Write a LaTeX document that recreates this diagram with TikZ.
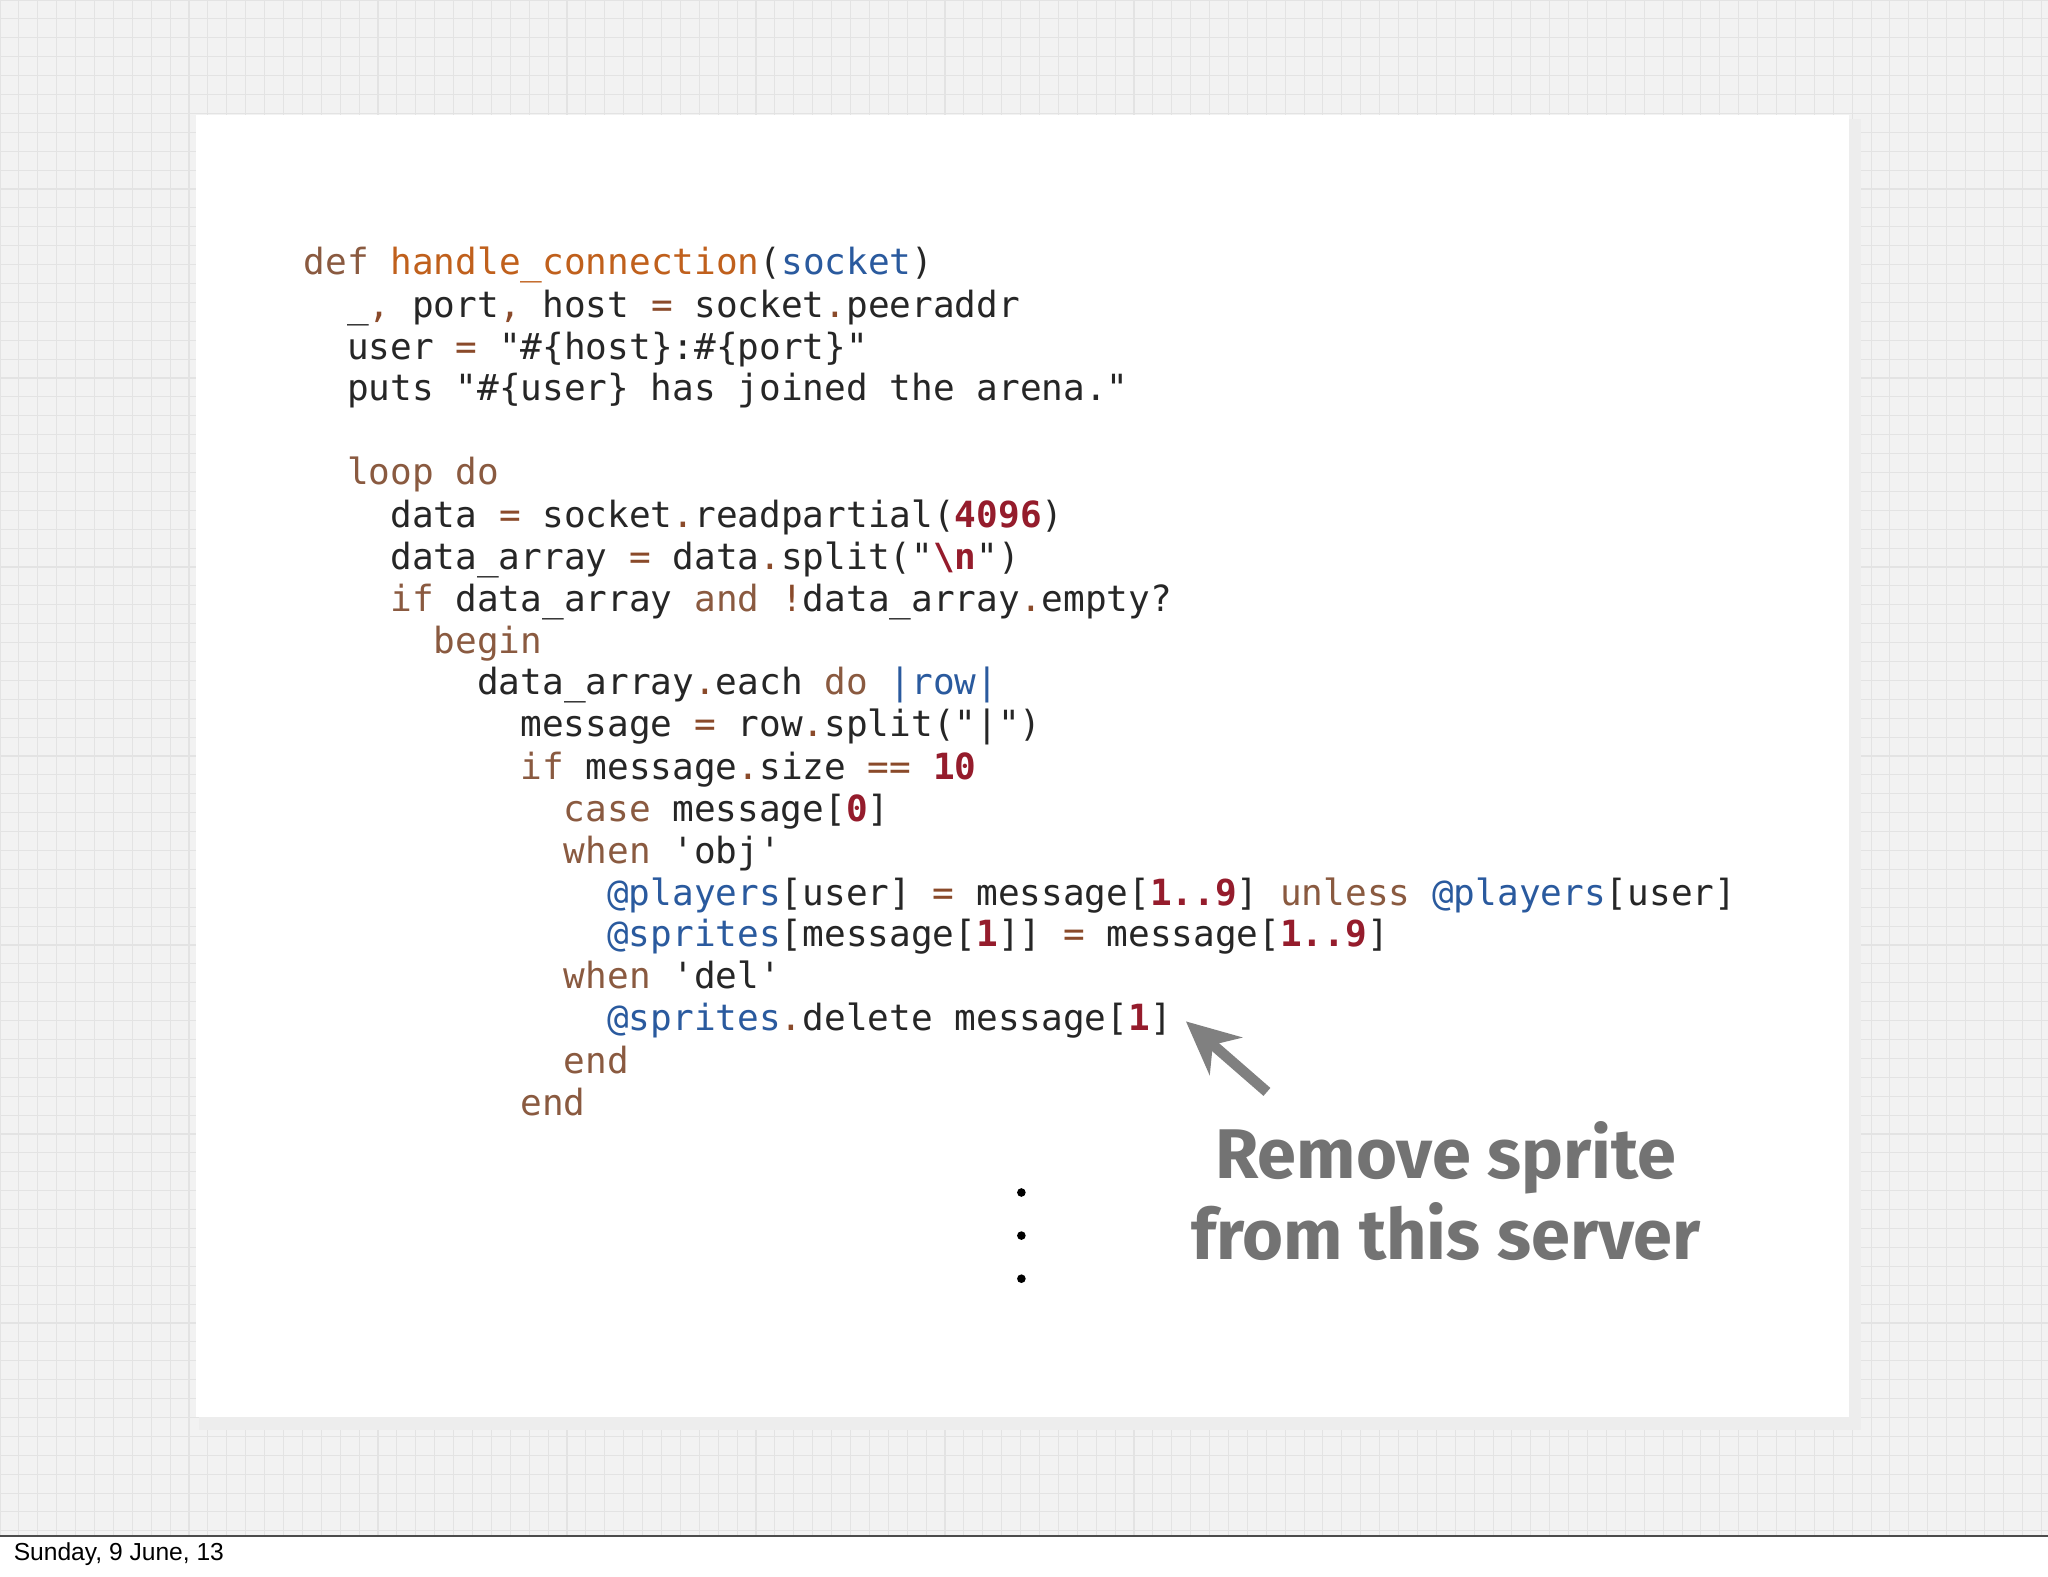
\documentclass[tikz,border=0pt]{standalone}
\usepackage{fontspec}
\usetikzlibrary{arrows.meta}
\newfontfamily\codefont{DejaVu Sans Mono}
\newfontfamily\handfont{Fira Sans}
\newfontfamily\footfont{Liberation Sans}
\definecolor{kwc}{HTML}{8A5A40}
\definecolor{fnc}{HTML}{C0601C}
\definecolor{blc}{HTML}{2A5A9E}
\definecolor{nmc}{HTML}{951C2C}
\definecolor{opc}{HTML}{8A4A2A}
\newcommand\kw[1]{{\color{kwc}#1}}
\newcommand\fn[1]{{\color{fnc}#1}}
\newcommand\bl[1]{{\color{blc}#1}}
\newcommand\nm[1]{{\color{nmc}\bfseries #1}}
\newcommand\op[1]{{\color{opc}#1}}
\newcommand\dq{\symbol{34}}
\newcommand\sq{\symbol{39}}
\begin{document}
\begin{tikzpicture}[x=0.01306cm,y=-0.01306cm,
  code/.style={anchor=base west,inner sep=0pt,font=\codefont\fontsize{10.26pt}{12pt}\selectfont,text=black!85}]
\useasboundingbox (0,0) rectangle (1568,1207);
\fill[gray!10] (0,0) rectangle (1568,1176);
\draw[gray!22,line width=0.3pt,step=0.189cm] (0,0) grid (1568,1176);
\fill[white] (0,1176) rectangle (1568,1207);
\draw[black!70,line width=0.6pt] (0,1176) -- (1568,1176);
\node[anchor=west,inner sep=0pt,font=\footfont\fontsize{7pt}{8pt}\selectfont] (foot) at (10,1190) {Sunday, 9 June, 13};
\fill[black!12] (154,93) rectangle (1421,1091);
\fill[black!7] (152,91) rectangle (1425,1095);
\fill[white] (150,88) rectangle (1416,1085);
\def\cw{16.6}
\node[code] (l0) at (232+0*\cw,210) {\kw{def} \fn{handle\_connection}(\bl{socket})};
\node[code] (l1) at (232+2*\cw,243) {\_\op{,} port\op{,} host \op{=} socket\op{.}peeraddr};
\node[code] (l2) at (232+2*\cw,275) {user \op{=} \dq\#\{host\}:\#\{port\}\dq};
\node[code] (l3) at (232+2*\cw,307) {puts \dq\#\{user\} has joined the arena.\dq};
\node[code] (l4) at (232+2*\cw,371) {\kw{loop do}};
\node[code] (l5) at (232+4*\cw,404) {data \op{=} socket\op{.}readpartial(\nm{4096})};
\node[code] (l6) at (232+4*\cw,436) {data\_array \op{=} data\op{.}split(\dq\nm{\textbackslash n}\dq)};
\node[code] (l7) at (232+4*\cw,468) {\kw{if} data\_array \kw{and} \op{!}data\_array\op{.}empty?};
\node[code] (l8) at (232+6*\cw,500) {\kw{begin}};
\node[code] (l9) at (232+8*\cw,532) {data\_array\op{.}each \kw{do} \bl{|row|}};
\node[code] (l10) at (232+10*\cw,564) {message \op{=} row\op{.}split(\dq|\dq)};
\node[code] (l11) at (232+10*\cw,597) {\kw{if} message\op{.}size \op{==} \nm{10}};
\node[code] (l12) at (232+12*\cw,629) {\kw{case} message[\nm{0}]};
\node[code] (l13) at (232+12*\cw,661) {\kw{when} \sq obj\sq};
\node[code] (l14) at (232+14*\cw,693) {\bl{@players}[user] \op{=} message[\nm{1..9}] \kw{unless} \bl{@players}[user]};
\node[code] (l15) at (232+14*\cw,725) {\bl{@sprites}[message[\nm{1}]] \op{=} message[\nm{1..9}]};
\node[code] (l16) at (232+12*\cw,757) {\kw{when} \sq del\sq};
\node[code] (l17) at (232+14*\cw,789) {\bl{@sprites}\op{.}delete message[\nm{1}]};
\node[code] (l18) at (232+12*\cw,822) {\kw{end}};
\node[code] (l19) at (232+10*\cw,854) {\kw{end}};
\foreach \yy in {913,946,979} \fill[black] (782,\yy) circle (3.3);
\node[font=\handfont\bfseries\fontsize{20pt}{23pt}\selectfont,text=black!55,align=center,inner sep=0pt] (note) at (1107,912) {Remove sprite\\[0pt]from this server};
\coordinate (tail) at (970,836);
\coordinate (tip) at (908,782);
\draw[black!50,line width=3pt,-{Stealth[length=15pt,width=14pt]}] (tail) -- (tip);
\end{tikzpicture}
\end{document}
